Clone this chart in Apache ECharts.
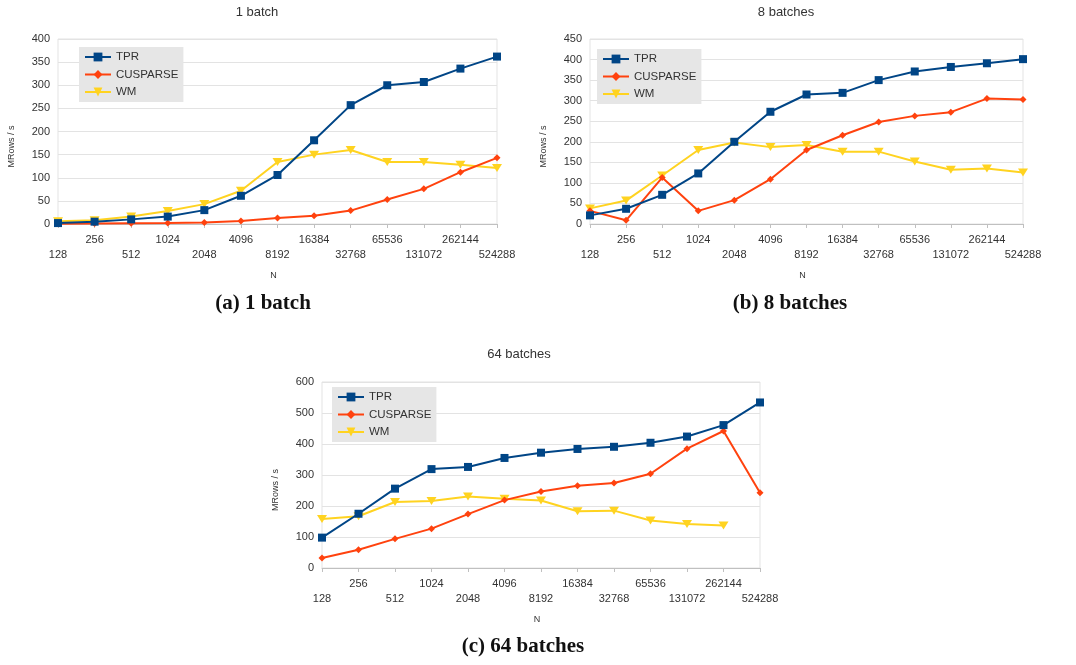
<!DOCTYPE html>
<html>
<head>
<meta charset="utf-8">
<script src="https://cdn.jsdelivr.net/npm/echarts@6/dist/echarts.min.js"></script>
<style>
  html, body { margin: 0; padding: 0; background: #ffffff; }
  #chart { width: 1076px; height: 665px; }
</style>
</head>
<body>
<div id="chart"></div>
<script>
// Problem sizes N (powers of two)
const categories = ['128', '256', '512', '1024', '2048', '4096', '8192', '16384',
  '32768', '65536', '131072', '262144', '524288'];

// Throughput in MRows/s, 1 batch
const tpr1 = [2, 5, 10, 16, 30, 61, 106, 181, 257, 300, 307, 336, 362];
const cusparse1 = [0.5, 1, 1.5, 2, 3.5, 6.5, 13, 18, 29, 53, 76, 112, 143];
const wm1 = [6, 8, 16, 28, 43, 72, 134, 150, 160, 134, 134, 128, 121];

// Throughput in MRows/s, 8 batches
const tpr8 = [21, 37, 71, 123, 200, 273, 315, 319, 350, 371, 382, 391, 401];
const cusparse8 = [32, 9, 113, 32, 58, 109, 180, 216, 248, 263, 272, 305, 303];
const wm8 = [38, 57, 118, 180, 198, 187, 192, 176, 176, 152, 132, 135, 125];

// Throughput in MRows/s, 64 batches (WM has no result for the largest N)
const tpr64 = [98, 175, 256, 319, 326, 355, 372, 384, 391, 404, 424, 461, 534];
const cusparse64 = [32, 59, 94, 127, 174, 219, 247, 265, 274, 304, 385, 442, 243];
const wm64 = [158, 167, 213, 216, 231, 223, 218, 183, 185, 153, 142, 137, null];

const seriesNames = ['TPR', 'CUSPARSE', 'WM'];
const panelTitles = ['1 batch', '8 batches', '64 batches'];
const captions = ['(a) 1 batch', '(b) 8 batches', '(c) 64 batches'];
const yMax = [400, 450, 600];
const yStep = [50, 50, 100];

const FONT = 'Liberation Sans';
const colors = { TPR: '#004586', CUSPARSE: '#ff420e', WM: '#ffd320' };
const symbols = {
  TPR: { symbol: 'rect', size: 8 },
  CUSPARSE: { symbol: 'diamond', size: 7 },
  WM: { symbol: 'path://M0,0 L10,0 L5,9 Z', size: [10, 8] }
};

// Layout of the three panels (plot rectangles)
const panels = [
  { left: 58, top: 39, width: 439, height: 185 },
  { left: 590, top: 39, width: 433, height: 185 },
  { left: 322, top: 382, width: 438, height: 186 }
];
const legendPos = [
  { left: 79, top: 47 },
  { left: 597, top: 49 },
  { left: 332, top: 387 }
];
const titlePos = [[257, 6], [786, 6], [519, 348]];
const captionPos = [[263, 304], [790, 304], [523, 647]];

const panelData = [
  [tpr1, cusparse1, wm1],
  [tpr8, cusparse8, wm8],
  [tpr64, cusparse64, wm64]
];

const grids = [], xAxes = [], yAxes = [], series = [], legends = [], titles = [], graphics = [];

panels.forEach((p, i) => {
  grids.push({
    left: p.left, top: p.top, width: p.width, height: p.height,
    show: true, borderColor: '#e3e3e3', borderWidth: 1, backgroundColor: 'transparent'
  });
  xAxes.push({
    type: 'category', gridIndex: i, data: categories, boundaryGap: false,
    axisLine: { lineStyle: { color: '#c0c0c0', width: 1 } },
    axisTick: { show: true, alignWithLabel: true, length: 4, lineStyle: { color: '#c0c0c0' } },
    axisLabel: {
      interval: 0, margin: 8, color: '#333', fontFamily: FONT, fontSize: 11, lineHeight: 15,
      formatter: (v, idx) => (idx % 2 === 0 ? '\n' + v : v)
    },
    splitLine: { show: false }
  });
  yAxes.push({
    type: 'value', gridIndex: i, min: 0, max: yMax[i], interval: yStep[i],
    axisLine: { show: false }, axisTick: { show: false },
    axisLabel: { margin: 8, color: '#333', fontFamily: FONT, fontSize: 11 },
    splitLine: { lineStyle: { color: '#e3e3e3', width: 1 } }
  });
  seriesNames.forEach((name, k) => {
    series.push({
      name: name, type: 'line', xAxisIndex: i, yAxisIndex: i,
      data: panelData[i][k],
      symbol: symbols[name].symbol, symbolSize: symbols[name].size, showSymbol: true,
      lineStyle: { color: colors[name], width: 2 },
      itemStyle: { color: colors[name] },
      connectNulls: false, animation: false, z: 3 - k
    });
  });
  legends.push({
    orient: 'vertical', left: legendPos[i].left, top: legendPos[i].top,
    backgroundColor: '#e6e6e6', borderRadius: 0,
    padding: [4, 5, 4, 5], itemWidth: 26, itemHeight: 11, itemGap: 5.5,
    data: seriesNames,
    textStyle: { color: '#333', fontFamily: FONT, fontSize: 11.5 }
  });
  titles.push({
    text: panelTitles[i], left: titlePos[i][0], top: titlePos[i][1], textAlign: 'center', padding: 0,
    textStyle: { color: '#333', fontFamily: FONT, fontSize: 13, fontWeight: 'normal' }
  });
  // axis names
  graphics.push({
    type: 'text', x: p.left - 46, y: p.top + p.height / 2 + 15, rotation: Math.PI / 2,
    style: { text: 'MRows / s', fill: '#333', font: '9px "' + FONT + '"', align: 'center', verticalAlign: 'middle' }
  });
  graphics.push({
    type: 'text', x: p.left + p.width / 2 - 4, y: p.top + p.height + 52,
    style: { text: 'N', fill: '#333', font: '9px "' + FONT + '"', align: 'center', verticalAlign: 'middle' }
  });
  graphics.push({
    type: 'text', x: captionPos[i][0], y: captionPos[i][1],
    style: { text: captions[i], fill: '#111', font: 'bold 21px "Liberation Serif"', align: 'center', verticalAlign: 'middle' }
  });
});

const chart = echarts.init(document.getElementById('chart'), null, { renderer: 'canvas' });
chart.setOption({
  animation: false,
  backgroundColor: '#ffffff',
  title: titles,
  grid: grids,
  xAxis: xAxes,
  yAxis: yAxes,
  legend: legends,
  series: series,
  graphic: graphics
});
</script>
</body>
</html>
